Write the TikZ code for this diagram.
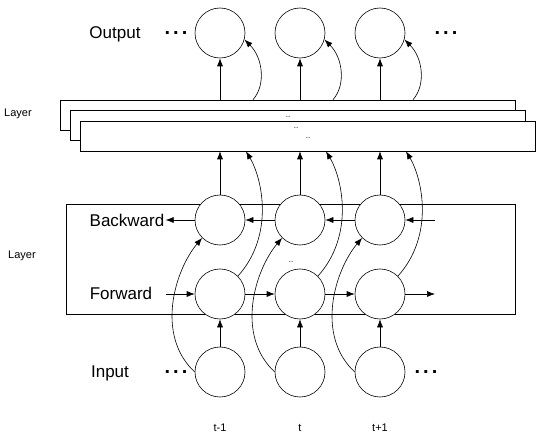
\documentclass[tikz,border=0pt]{standalone}
\usepackage{fontspec}
\setmainfont{Liberation Sans}
\usetikzlibrary{arrows.meta}
\newcommand{\cellSize}[0]{50}
\newcommand{\bigFont}[0]{\fontsize{17}{20}\selectfont}
\newcommand{\smallFont}[0]{\fontsize{11}{13}\selectfont}
\newcommand{\tinyFont}[0]{\fontsize{8}{9}\selectfont}
\newcommand{\dotsFont}[0]{\fontsize{20}{20}\selectfont\bfseries}

\begin{document}
\begin{tikzpicture}[x=1pt, y=1pt, line width=0.6pt, >={Latex[length=8pt,width=6pt]}]
  \tikzset{cell/.style={draw, circle, fill=white, inner sep=0pt, minimum size=\cellSize},
    layerbox/.style={draw, fill=white, inner sep=0pt, minimum width=455, minimum height=30},
    bigtag/.style={font=\bigFont, inner sep=1pt},
    smalltag/.style={font=\smallFont, inner sep=1pt},
    dotstag/.style={font=\dotsFont, inner sep=0pt}}
  \useasboundingbox (0,0) rectangle (536,440);
  % stacked output layers
  \node[layerbox] (LAYER-1) at (287.5,325) {};
  \node[layerbox] (LAYER-2) at (297.5,315) {};
  \node[layerbox] (LAYER-3) at (307.5,304) {};
  \node[font=\tinyFont, inner sep=0pt] (DOTS-1) at (288,323) {..};
  \node[font=\tinyFont, inner sep=0pt] (DOTS-2) at (296,312) {..};
  \node[font=\tinyFont, inner sep=0pt] (DOTS-3) at (308,302) {..};
  \node[smalltag] (LAYER-TOP) at (18,326) {Layer};
  % recurrent layer
  \node[draw, inner sep=0pt, minimum width=449, minimum height=110] (BOX-1) at (290.5,181) {};
  \node[smalltag] (LAYER-MID) at (22,184) {Layer};
  % labels
  \node[bigtag] (OUT-LABEL) at (115,406) {Output};
  \node[bigtag] (BWD-LABEL) at (127,220) {Backward};
  \node[bigtag] (FWD-LABEL) at (121,147) {Forward};
  \node[bigtag] (IN-LABEL) at (110,67) {Input};
  \node[dotstag] (OUT-DOTS-L) at (176,407) {.\hspace{3pt}.\hspace{3pt}.};
  \node[dotstag] (OUT-DOTS-R) at (446,407) {.\hspace{3pt}.\hspace{3pt}.};
  \node[dotstag] (IN-DOTS-L) at (176,68) {.\hspace{3pt}.\hspace{3pt}.};
  \node[dotstag] (IN-DOTS-R) at (426,68) {.\hspace{3pt}.\hspace{3pt}.};
  \node[font=\tinyFont, inner sep=0pt] (DOTS-4) at (291,178) {..};
  % cells
  \node[cell] (OUT-1) at (220,407) {};
  \node[cell] (OUT-2) at (300,407) {};
  \node[cell] (OUT-3) at (380,407) {};
  \node[cell] (BWD-1) at (220,220) {};
  \node[cell] (BWD-2) at (300,220) {};
  \node[cell] (BWD-3) at (380,220) {};
  \node[cell] (FWD-1) at (220,146) {};
  \node[cell] (FWD-2) at (300,146) {};
  \node[cell] (FWD-3) at (380,146) {};
  \node[cell] (IN-1) at (220,68) {};
  \node[cell] (IN-2) at (300,68) {};
  \node[cell] (IN-3) at (380,68) {};
  \node[smalltag] (T-1) at (220,12) {t-1};
  \node[smalltag] (T-2) at (300,12) {t};
  \node[smalltag] (T-3) at (380,12) {t+1};
  \coordinate (FWD-IN) at (166,146);
  \coordinate (FWD-OUT) at (435,146);
  \coordinate (BWD-IN) at (435,220);
  % forward and backward chains
  \draw[->] (FWD-IN) -- (FWD-1);
  \draw[->] (FWD-1) -- (FWD-2);
  \draw[->] (FWD-2) -- (FWD-3);
  \draw[->] (FWD-3) -- (FWD-OUT);
  \draw[->] (BWD-IN) -- (BWD-3);
  \draw[->] (BWD-3) -- (BWD-2);
  \draw[->] (BWD-2) -- (BWD-1);
  \draw[->] (BWD-1) -- (BWD-LABEL);
  % inputs
  \draw[->] (IN-1) -- (FWD-1);
  \draw[->] (IN-2) -- (FWD-2);
  \draw[->] (IN-3) -- (FWD-3);
  \draw[->] (IN-1.west) .. controls (155,105) and (175,170) .. (BWD-1.225);
  \draw[->] (IN-2.west) .. controls (235,105) and (255,170) .. (BWD-2.225);
  \draw[->] (IN-3.west) .. controls (315,105) and (335,170) .. (BWD-3.225);
  % into the stacked layers
  \draw[->] (BWD-1) -- (BWD-1 |- LAYER-3.south);
  \draw[->] (BWD-2) -- (BWD-2 |- LAYER-3.south);
  \draw[->] (BWD-3) -- (BWD-3 |- LAYER-3.south);
  \draw[->] (FWD-1.45) .. controls (275,205) and (262,262) .. ([xshift=26]BWD-1 |- LAYER-3.south);
  \draw[->] (FWD-2.45) .. controls (355,205) and (342,262) .. ([xshift=26]BWD-2 |- LAYER-3.south);
  \draw[->] (FWD-3.45) .. controls (435,205) and (422,262) .. ([xshift=26]BWD-3 |- LAYER-3.south);
  % outputs
  \draw[->] (OUT-1 |- LAYER-1.north) -- (OUT-1);
  \draw[->] (OUT-2 |- LAYER-1.north) -- (OUT-2);
  \draw[->] (OUT-3 |- LAYER-1.north) -- (OUT-3);
  \draw[->] ([xshift=33]OUT-1 |- LAYER-1.north) .. controls (266,355) and (263,382) .. (OUT-1.-15);
  \draw[->] ([xshift=33]OUT-2 |- LAYER-1.north) .. controls (346,355) and (343,382) .. (OUT-2.-15);
  \draw[->] ([xshift=33]OUT-3 |- LAYER-1.north) .. controls (426,355) and (423,382) .. (OUT-3.-15);
\end{tikzpicture}
\end{document}
